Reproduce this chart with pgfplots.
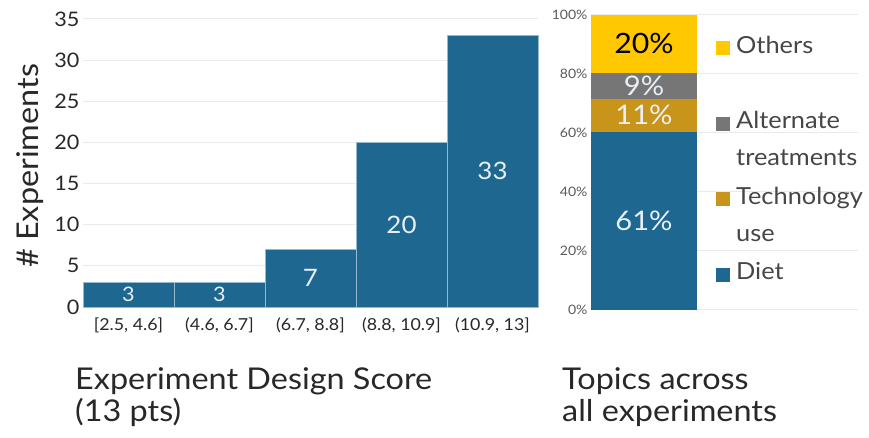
\documentclass[border=0pt]{standalone}
\usepackage{fontspec}
\setmainfont{Lato}[FakeStretch=1.08]
\usepackage{pgfplots}
\pgfplotsset{compat=1.18}
\definecolor{cblue}{RGB}{30,103,145}
\definecolor{cyel}{RGB}{255,200,0}
\definecolor{cgold}{RGB}{200,148,26}
\definecolor{cgrey}{RGB}{118,118,118}
\definecolor{gridc}{RGB}{234,234,234}
\definecolor{txt}{RGB}{40,40,40}
\definecolor{legtxt}{RGB}{70,70,70}
\definecolor{ticktxt}{RGB}{90,90,90}
\definecolor{barline}{RGB}{150,185,205}
\definecolor{lblc}{RGB}{232,240,246}
\begin{document}
\begin{tikzpicture}
\path[use as bounding box] (0pt,0pt) rectangle (869pt,438pt);
% ---------- left histogram ----------
\begin{axis}[
  at={(83pt,131pt)}, anchor=south west, scale only axis,
  width=455pt, height=288pt,
  xmin=-0.5, xmax=4.5, ymin=0, ymax=35,
  ytick={0,5,...,35},
  xtick={0,1,2,3,4},
  xticklabels={{[2.5, 4.6]},{(4.6, 6.7]},{(6.7, 8.8]},{(8.8, 10.9]},{(10.9, 13]}},
  ymajorgrids, grid style={color=gridc, line width=1pt},
  axis line style={draw=none}, major tick length=0pt,
  /pgf/number format/assume math mode=true,
  yticklabel style={font=\fontsize{20}{20}\selectfont, text=txt},
  xticklabel style={font=\fontsize{16.5}{16.5}\selectfont, text=txt, yshift=-7pt},
  ylabel={\# Experiments},
  ylabel style={at={(axis description cs:-0.117,0.49)}, anchor=center, rotate=0, font=\fontsize{30}{30}\selectfont, text=txt},
  clip=false,
]
\addplot[ybar, bar width=1, bar shift=0pt, fill=cblue, draw=barline, line width=0.6pt]
  coordinates {(0,3) (1,3) (2,7) (3,20) (4,33)};
\addplot[draw=none, mark=none, nodes near coords, point meta=explicit symbolic,
  nodes near coords align=center,
  every node near coord/.append style={font=\fontsize{20}{20}\selectfont, text=lblc}]
  coordinates {(0,1.5)[3] (1,1.5)[3]};
\addplot[draw=none, mark=none, nodes near coords, point meta=explicit symbolic,
  nodes near coords align=center,
  every node near coord/.append style={font=\fontsize{24}{24}\selectfont, text=lblc}]
  coordinates {(2,3.5)[7] (3,10)[20] (4,16.5)[33]};
\end{axis}
% ---------- right stacked bar ----------
\begin{axis}[
  at={(591pt,128pt)}, anchor=south west, scale only axis,
  width=267pt, height=295pt,
  xmin=0, xmax=2.52, ymin=0, ymax=100,
  ytick={0,20,...,100}, xtick=\empty,
  yticklabel={\pgfmathprintnumber{\tick}\%},
  /pgf/number format/assume math mode=true,
  yticklabel style={font=\fontsize{13}{13}\selectfont, text=ticktxt},
  ymajorgrids, grid style={color=gridc, line width=1pt},
  axis line style={draw=none}, major tick length=0pt,
  ybar stacked, bar width=1,
  reverse legend,
  legend cell align=left,
  legend style={draw=none, fill=none, at={(rel axis cs:0.468,0.926)}, anchor=north west,
    font=\fontsize{23.5}{37}\selectfont, text=legtxt, inner sep=0pt, row sep=5.5pt, column sep=6pt,
    nodes={inner sep=0pt, text height=16pt, text depth=54pt}},
  legend image code/.code={\fill[#1, draw=none] (0pt,17pt) rectangle (14pt,31pt);},
]
\addplot[fill=cblue, draw=none] coordinates {(0.5,60.5)};
\addlegendentry{Diet}
\addplot[fill=cgold, draw=none] coordinates {(0.5,11)};
\addlegendentry{\begin{tabular}[t]{@{}l@{}}Technology\\use\end{tabular}}
\addplot[fill=cgrey, draw=none] coordinates {(0.5,9)};
\addlegendentry{\begin{tabular}[t]{@{}l@{}}Alternate\\treatments\end{tabular}}
\addplot[fill=cyel, draw=none] coordinates {(0.5,19.5)};
\addlegendentry{Others}
\end{axis}
% ---------- labels on stacked bar ----------
\begin{axis}[
  at={(591pt,128pt)}, anchor=south west, scale only axis,
  width=267pt, height=295pt,
  xmin=0, xmax=2.52, ymin=0, ymax=100, hide axis, clip=false,
]
\addplot[draw=none, mark=none, nodes near coords, point meta=explicit symbolic,
  nodes near coords align=center,
  every node near coord/.append style={font=\fontsize{27}{27}\selectfont, text=lblc}]
  coordinates {(0.5,30.25)[61\%] (0.5,66)[11\%] (0.5,76)[9\%]};
\addplot[draw=none, mark=none, nodes near coords, point meta=explicit symbolic,
  nodes near coords align=center,
  every node near coord/.append style={font=\fontsize{28}{28}\selectfont, text=black}]
  coordinates {(0.5,90.25)[20\%]};
\end{axis}
% ---------- captions ----------
\node[anchor=base west, align=left, font=\fontsize{30}{32}\selectfont, text=txt, inner sep=0pt]
  at (75pt,16pt) {Experiment Design Score\\(13 pts)};
\node[anchor=base west, align=left, font=\fontsize{30}{32}\selectfont, text=txt, inner sep=0pt]
  at (562pt,16pt) {Topics across\\all experiments};
\end{tikzpicture}
\end{document}
